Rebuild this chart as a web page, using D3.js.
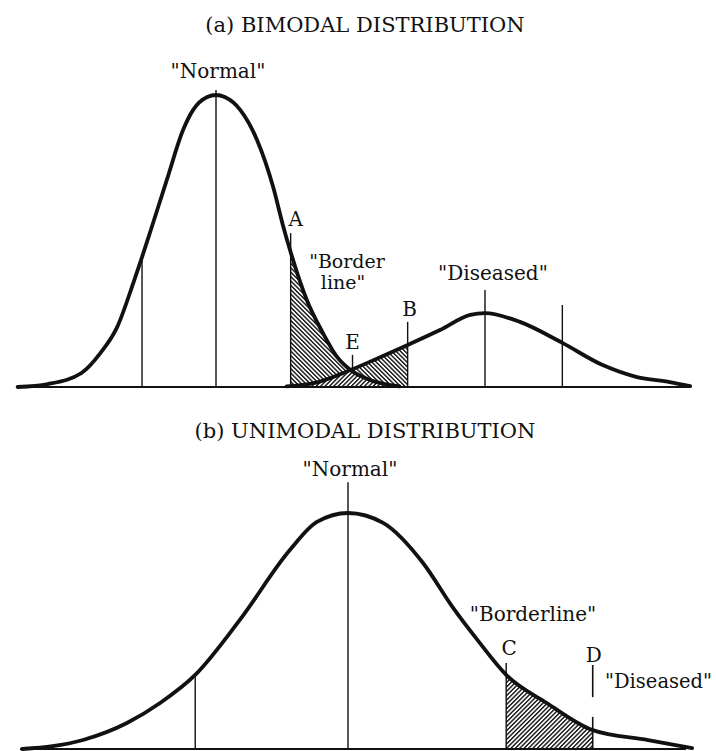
<!DOCTYPE html>
<html>
<head>
<meta charset="utf-8">
<script src="https://cdn.jsdelivr.net/npm/d3@7"></script>
<style>
body { margin: 0; background: #fff; }
text { font-family: "DejaVu Serif", serif; fill: #111; }
</style>
</head>
<body>
<div id="chart"></div>
<script>
let svgWidth = 716;
let svgHeight = 751;

// (a) bimodal, test value 0..100, frequency 0..100
let normalAx = [0.5, 5, 10, 12.8, 15.3, 17.7, 19, 20.2, 22.7, 25.1, 26.6, 28.7, 30, 31.3, 33.6, 36.1, 38.5, 40, 41.1, 43.5, 45.9, 48, 50, 52.9, 57.3];
let normalAy = [0, 1, 4.8, 11.6, 20.5, 35.6, 44.5, 53, 71, 88, 94.9, 99.3, 100, 99.3, 94.9, 84.6, 68.5, 55, 46.2, 29.8, 18.5, 10.3, 5.8, 2.4, 0.2];
let diseasedAx = [40.5, 45.2, 50, 54.5, 58.5, 63.3, 67.8, 70, 75.2, 81.5, 87.5, 92.6, 97.5, 100.5];
let diseasedAy = [0.2, 1.7, 5.8, 10.3, 14.4, 19.5, 24.7, 25.3, 22.3, 15.1, 7.5, 3.4, 1.7, 0.3];

// vertical marker lines (a): position and how high they reach
let marksAx = [19, 30, 41.1, 58.5, 70, 81.5];
let marksAtop = [44.5, 101.7, 52.7, 22.3, 33.2, 28.1];
let cutA = 41.1, cutE = 50, cutB = 58.5;

// (b) unimodal
let normalBx = [1.8, 10.8, 17.3, 22.2, 27.4, 34, 41.4, 45.4, 50, 55.2, 61.1, 65.5, 69.2, 73.4, 79.4, 86.2, 94.4, 100.9];
let normalBy = [0, 3.8, 11, 19.5, 31.4, 54.7, 84.3, 96.2, 100, 95.8, 78.8, 60, 46, 31.4, 19.5, 8, 3.8, 0.4];
let marksBx = [27.4, 50, 73.4];
let marksBtop = [31.4, 113, 36.4];
let cutC = 73.4, cutD = 86.2;

let normalA = d3.zip(normalAx, normalAy).map(d => ({x: d[0], y: d[1]}));
let diseasedA = d3.zip(diseasedAx, diseasedAy).map(d => ({x: d[0], y: d[1]}));
let normalB = d3.zip(normalBx, normalBy).map(d => ({x: d[0], y: d[1]}));

let svg = d3.select("#chart").append("svg")
  .attr("width", svgWidth)
  .attr("height", svgHeight);

let defs = svg.append("defs");

// hatch patterns: rotate(45) gives "/", rotate(-45) gives "\"
function hatch(id, angle) {
  defs.append("pattern")
    .attr("id", id)
    .attr("patternUnits", "userSpaceOnUse")
    .attr("width", 3.1)
    .attr("height", 3.1)
    .attr("patternTransform", `rotate(${angle})`)
    .append("line")
    .attr("x1", 0.7).attr("y1", 0)
    .attr("x2", 0.7).attr("y2", 3.1)
    .attr("stroke", "#111")
    .attr("stroke-width", 1.4);
}
hatch("fwd", 45);
hatch("back", -45);

let xA = d3.scaleLinear().domain([0, 100]).range([14.25, 686.75]);
let yA = d3.scaleLinear().domain([0, 100]).range([387, 95]);
let xB = d3.scaleLinear().domain([0, 100]).range([10, 686]);
let yB = d3.scaleLinear().domain([0, 100]).range([749, 513]);

function lineGen(x, y) {
  return d3.line().x(d => x(d.x)).y(d => y(d.y)).curve(d3.curveMonotoneX);
}
function areaGen(x, y) {
  return d3.area().x(d => x(d.x)).y0(y(0)).y1(d => y(d.y)).curve(d3.curveMonotoneX);
}

// ---------- panel (a) ----------
let gA = svg.append("g");

defs.append("clipPath").attr("id", "clipAB")
  .append("rect")
  .attr("x", xA(cutA)).attr("y", 0)
  .attr("width", xA(cutB) - xA(cutA))
  .attr("height", yA(0) + 1);
defs.append("clipPath").attr("id", "clipNormalA")
  .append("path")
  .attr("d", areaGen(xA, yA)(normalA));

let hatchA = gA.append("g").attr("clip-path", "url(#clipAB)");
hatchA.append("path")
  .attr("d", areaGen(xA, yA)(normalA))
  .attr("fill", "url(#back)");
hatchA.append("path")
  .attr("d", areaGen(xA, yA)(diseasedA))
  .attr("fill", "url(#back)");
// overlap under both curves is hatched the other way
let overlap = hatchA.append("g").attr("clip-path", "url(#clipNormalA)");
overlap.append("path")
  .attr("d", areaGen(xA, yA)(diseasedA))
  .attr("fill", "#fff");
overlap.append("path")
  .attr("d", areaGen(xA, yA)(diseasedA))
  .attr("fill", "url(#fwd)");

gA.selectAll(".markA")
  .data(d3.zip(marksAx, marksAtop))
  .enter()
  .append("line")
  .attr("x1", d => xA(d[0])).attr("x2", d => xA(d[0]))
  .attr("y1", yA(0)).attr("y2", d => yA(d[1]))
  .attr("stroke", "#111")
  .attr("stroke-width", 1.4);

// short tick at the crossing point E
gA.append("line")
  .attr("x1", xA(cutE) + 2).attr("x2", xA(cutE) + 2)
  .attr("y1", yA(5.8)).attr("y2", yA(11))
  .attr("stroke", "#111")
  .attr("stroke-width", 1.4);

[normalA, diseasedA].forEach(s => {
  gA.append("path")
    .attr("d", lineGen(xA, yA)(s))
    .attr("fill", "none")
    .attr("stroke", "#111")
    .attr("stroke-width", 3.8)
    .attr("stroke-linecap", "round")
    .attr("stroke-linejoin", "round");
});

gA.append("line")
  .attr("x1", xA(0.5)).attr("x2", xA(100.5))
  .attr("y1", yA(0)).attr("y2", yA(0))
  .attr("stroke", "#111")
  .attr("stroke-width", 2);

gA.append("text")
  .attr("x", 365).attr("y", 32)
  .attr("text-anchor", "middle")
  .style("font-size", "21px")
  .text("(a) BIMODAL DISTRIBUTION");

gA.append("text")
  .attr("x", xA(30) + 2).attr("y", yA(101.7) - 12)
  .attr("text-anchor", "middle")
  .style("font-size", "20px")
  .text("\"Normal\"");

gA.append("text")
  .attr("x", xA(cutA) + 5).attr("y", yA(52.7) - 7)
  .attr("text-anchor", "middle")
  .style("font-size", "20px")
  .text("A");

gA.append("text")
  .attr("x", 347).attr("y", 268)
  .attr("text-anchor", "middle")
  .style("font-size", "19px")
  .text("\"Border");
gA.append("text")
  .attr("x", 343).attr("y", 289)
  .attr("text-anchor", "middle")
  .style("font-size", "19px")
  .text("line\"");

gA.append("text")
  .attr("x", xA(cutE) + 2).attr("y", yA(11) - 6)
  .attr("text-anchor", "middle")
  .style("font-size", "20px")
  .text("E");

gA.append("text")
  .attr("x", xA(cutB) + 2).attr("y", yA(22.3) - 6)
  .attr("text-anchor", "middle")
  .style("font-size", "20px")
  .text("B");

gA.append("text")
  .attr("x", xA(70) + 8).attr("y", yA(33.2) - 10)
  .attr("text-anchor", "middle")
  .style("font-size", "20px")
  .text("\"Diseased\"");

// ---------- panel (b) ----------
let gB = svg.append("g");

defs.append("clipPath").attr("id", "clipCD")
  .append("rect")
  .attr("x", xB(cutC)).attr("y", 0)
  .attr("width", xB(cutD) - xB(cutC))
  .attr("height", yB(0) + 1);

gB.append("path")
  .attr("d", areaGen(xB, yB)(normalB))
  .attr("clip-path", "url(#clipCD)")
  .attr("fill", "url(#fwd)");

gB.selectAll(".markB")
  .data(d3.zip(marksBx, marksBtop))
  .enter()
  .append("line")
  .attr("x1", d => xB(d[0])).attr("x2", d => xB(d[0]))
  .attr("y1", yB(0)).attr("y2", d => yB(d[1]))
  .attr("stroke", "#111")
  .attr("stroke-width", 1.4);

// D is broken around the curve
[[0, 13.6], [22, 35.6]].forEach(seg => {
  gB.append("line")
    .attr("x1", xB(cutD)).attr("x2", xB(cutD))
    .attr("y1", yB(seg[0])).attr("y2", yB(seg[1]))
    .attr("stroke", "#111")
    .attr("stroke-width", 1.6);
});

gB.append("path")
  .attr("d", lineGen(xB, yB)(normalB))
  .attr("fill", "none")
  .attr("stroke", "#111")
  .attr("stroke-width", 3.8)
  .attr("stroke-linecap", "round");

gB.append("line")
  .attr("x1", xB(1.5)).attr("x2", xB(100))
  .attr("y1", yB(0)).attr("y2", yB(0))
  .attr("stroke", "#111")
  .attr("stroke-width", 2);

gB.append("text")
  .attr("x", 365).attr("y", 438)
  .attr("text-anchor", "middle")
  .style("font-size", "21px")
  .text("(b) UNIMODAL DISTRIBUTION");

gB.append("text")
  .attr("x", xB(50) + 2).attr("y", yB(113) - 6)
  .attr("text-anchor", "middle")
  .style("font-size", "20px")
  .text("\"Normal\"");

gB.append("text")
  .attr("x", 533).attr("y", 621)
  .attr("text-anchor", "middle")
  .style("font-size", "20px")
  .text("\"Borderline\"");

gB.append("text")
  .attr("x", xB(cutC) + 3).attr("y", yB(36.4) - 8)
  .attr("text-anchor", "middle")
  .style("font-size", "20px")
  .text("C");

gB.append("text")
  .attr("x", xB(cutD) + 1).attr("y", yB(35.6) - 3)
  .attr("text-anchor", "middle")
  .style("font-size", "20px")
  .text("D");

gB.append("text")
  .attr("x", 605).attr("y", 688)
  .style("font-size", "19.5px")
  .text("\"Diseased\"");
</script>
</body>
</html>
